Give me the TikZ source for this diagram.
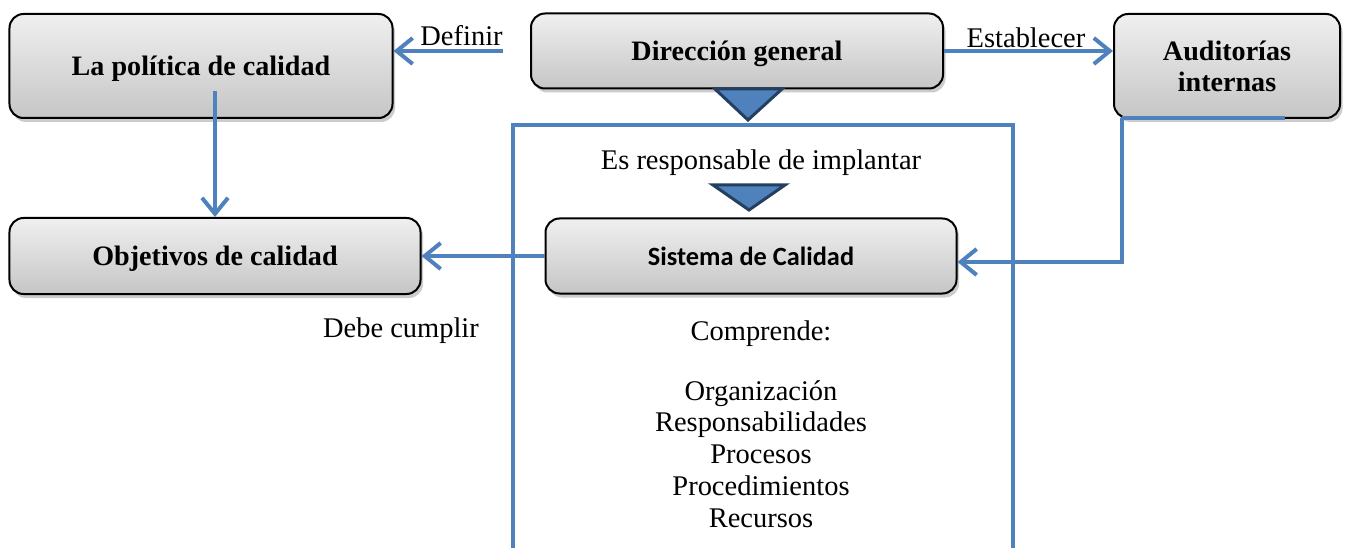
\documentclass[tikz,border=0pt]{standalone}
\usepackage{fontspec}
\setmainfont{Liberation Serif}
\newfontfamily\carlito{Carlito}
\usepackage{tikz}
\usetikzlibrary{arrows.meta,shadows,positioning}
\definecolor{azul}{HTML}{4F81BD}
\definecolor{azuloscuro}{HTML}{243F60}
\tikzset{
  caja/.style={draw=black, line width=0.4mm, rounded corners=2.8mm, top color=gray!12, bottom color=gray!45,
    drop shadow={shadow xshift=0.5mm, shadow yshift=-0.8mm, fill=black!40}, align=center,
    font=\fontsize{16}{17.6}\selectfont\bfseries, inner sep=0pt},
  unalinea/.style={text height=1.3em, text depth=0.25em},
  linea/.style={draw=azul, line width=0.8mm},
  flecha/.style={linea, -{Straight Barb[length=3.2mm, width=5.2mm, line width=0.8mm]}},
  triangulo/.style={fill=azul, draw=azuloscuro, line width=0.6mm},
  texto/.style={font=\fontsize{16.2}{18.1}\selectfont, inner sep=0pt}
}
\begin{document}
\begin{tikzpicture}[x=0.2mm, y=-0.2mm]
\useasboundingbox (0,0) rectangle (1348,548);
\node[caja, unalinea, minimum width=76.6mm, minimum height=20.8mm] (politica) at (201,66) {La política de calidad};
\node[caja, unalinea, minimum width=82.4mm, minimum height=15mm] (direccion) at (737,51) {Dirección general};
\node[caja, minimum width=45.2mm, minimum height=20.8mm] (auditorias) at (1227,66) {Auditorías\\internas};
\node[caja, unalinea, minimum width=82.2mm, minimum height=15.2mm] (objetivos) at (215,256) {Objetivos de calidad};
\node[caja, minimum width=82.2mm, minimum height=15mm, font=\fontsize{15}{17}\selectfont\carlito\bfseries] (sistema) at (751,256) {Sistema de Calidad};
\draw[linea] (513,548) -- (513,125) -- (1013,125) -- (1013,548);
\draw[triangulo] (715,89) -- (782,89) -- (748,120) -- cycle;
\draw[triangulo] (713,185) -- (785,185) -- (749,210) -- cycle;
\node[texto] (responsable) at (761,163) {Es responsable de implantar};
\coordinate (d) at (503,51);
\draw[flecha] (d) -- (politica.east |- d);
\node[texto, above left=1mm and 0mm of d] (definir) {Definir};
\draw[flecha] (direccion.east) -- (auditorias.west |- direccion.east);
\node[texto] (establecer) at (1026,38) {Establecer};
\draw[flecha] ([yshift=5.6mm]objetivos.north |- politica.south) -- (objetivos.north);
\draw[flecha] (sistema.west) -- (objetivos.east);
\node[texto] (cumplir) at (401,331) {Debe cumplir};
\coordinate (a) at (1122,118);
\draw[linea] (a) -- (1285,118);
\draw[flecha] (a) |- ([yshift=-1.2mm]sistema.east);
\node[texto, align=center] (comprende) at (761,424) {Comprende:\\[16pt]Organización\\Responsabilidades\\Procesos\\Procedimientos\\Recursos};
\end{tikzpicture}
\end{document}
